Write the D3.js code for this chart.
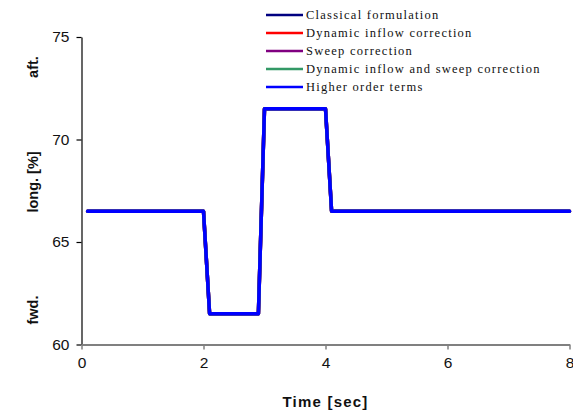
<!DOCTYPE html>
<html>
<head>
<meta charset="utf-8">
<script src="https://cdn.jsdelivr.net/npm/d3@7"></script>
<style>
  html, body { margin: 0; padding: 0; background: #fff; }
  svg { display: block; }
</style>
</head>
<body>
<svg id="chart" width="573" height="414"></svg>
<script>
// Time axis samples [sec]
const time = [0.1, 2.0, 2.1, 2.9, 3.0, 4.0, 4.1, 8.0];

// Longitudinal position [%] for each model
const classical      = [66.5, 66.5, 61.5, 61.5, 71.5, 71.5, 66.5, 66.5];
const dynInflow      = [66.5, 66.5, 61.5, 61.5, 71.5, 71.5, 66.5, 66.5];
const sweep          = [66.5, 66.5, 61.5, 61.5, 71.5, 71.5, 66.5, 66.5];
const dynInflowSweep = [66.5, 66.5, 61.5, 61.5, 71.5, 71.5, 66.5, 66.5];
const higherOrder    = [66.5, 66.5, 61.5, 61.5, 71.5, 71.5, 66.5, 66.5];

const seriesNames = [
  "Classical formulation",
  "Dynamic inflow correction",
  "Sweep correction",
  "Dynamic inflow and sweep correction",
  "Higher order terms"
];
const seriesColors = ["#000080", "#ff0000", "#800080", "#339966", "#0000ff"];

const xTicks = [0, 2, 4, 6, 8];
const yTicks = [60, 65, 70, 75];

const series = [classical, dynInflow, sweep, dynInflowSweep, higherOrder].map((vals, i) => ({
  name: seriesNames[i],
  color: seriesColors[i],
  points: time.map((t, j) => ({ t, v: vals[j] }))
}));

const svg = d3.select("#chart");
const plot = { left: 81.5, right: 569.5, top: 37, bottom: 344.5 };

const x = d3.scaleLinear().domain([0, 8]).range([plot.left, plot.right]);
const y = d3.scaleLinear().domain([60, 75]).range([plot.bottom, plot.top]);

const sansFont = "'Liberation Sans', Arial, sans-serif";

// Y axis (black)
const yAxis = svg.append("g")
  .attr("transform", `translate(${plot.left},0)`)
  .call(d3.axisLeft(y).tickValues(yTicks).tickSize(5).tickSizeOuter(0).tickPadding(7).tickFormat(d3.format("d")));
yAxis.select(".domain").attr("stroke", "#000").attr("stroke-width", 1.2);
yAxis.selectAll(".tick line").attr("stroke", "#000").attr("stroke-width", 1.2);
yAxis.selectAll(".tick text")
  .attr("fill", "#111")
  .style("font-family", sansFont)
  .style("font-size", "15.5px");

// X axis (grey)
const xAxis = svg.append("g")
  .attr("transform", `translate(0,${plot.bottom})`)
  .call(d3.axisBottom(x).tickValues(xTicks).tickSize(5).tickSizeOuter(0).tickPadding(7).tickFormat(d3.format("d")));
xAxis.select(".domain").attr("stroke", "#808080").attr("stroke-width", 2);
xAxis.selectAll(".tick line").attr("stroke", "#808080").attr("stroke-width", 1.5);
xAxis.selectAll(".tick text")
  .attr("fill", "#111")
  .style("font-family", sansFont)
  .style("font-size", "15.5px");

// Axis titles
svg.append("text")
  .attr("x", (plot.left + plot.right) / 2)
  .attr("y", 407)
  .attr("text-anchor", "middle")
  .style("font-family", sansFont)
  .style("font-weight", "bold")
  .style("font-size", "15px")
  .style("letter-spacing", "1.2px")
  .attr("fill", "#111")
  .text("Time [sec]");

const yLabels = [
  { text: "aft.", yc: 67 },
  { text: "long. [%]", yc: 182 },
  { text: "fwd.", yc: 310 }
];
svg.selectAll("text.ylab")
  .data(yLabels)
  .join("text")
  .attr("class", "ylab")
  .attr("transform", d => `translate(38,${d.yc}) rotate(-90)`)
  .attr("text-anchor", "middle")
  .style("font-family", sansFont)
  .style("font-weight", "bold")
  .style("font-size", "14.5px")
  .attr("fill", "#111")
  .text(d => d.text);

// Data lines
const line = d3.line().x(d => x(d.t)).y(d => y(d.v));
svg.append("g")
  .selectAll("path")
  .data(series)
  .join("path")
  .attr("d", d => line(d.points))
  .attr("fill", "none")
  .attr("stroke", d => d.color)
  .attr("stroke-width", 3.5)
  .attr("stroke-linejoin", "round")
  .attr("stroke-linecap", "round");

// Legend
const legend = svg.append("g").attr("transform", "translate(266,15)");
const rows = legend.selectAll("g")
  .data(series)
  .join("g")
  .attr("transform", (d, i) => `translate(0,${i * 18})`);
rows.append("line")
  .attr("x1", 0).attr("x2", 37)
  .attr("y1", 0).attr("y2", 0)
  .attr("stroke", d => d.color)
  .attr("stroke-width", 2.5);
rows.append("text")
  .attr("x", 40)
  .attr("y", 4.3)
  .style("font-family", "'Liberation Serif', 'Times New Roman', serif")
  .style("font-size", "12.5px")
  .style("letter-spacing", "1.25px")
  .attr("fill", "#111")
  .text(d => d.name);
</script>
</body>
</html>
